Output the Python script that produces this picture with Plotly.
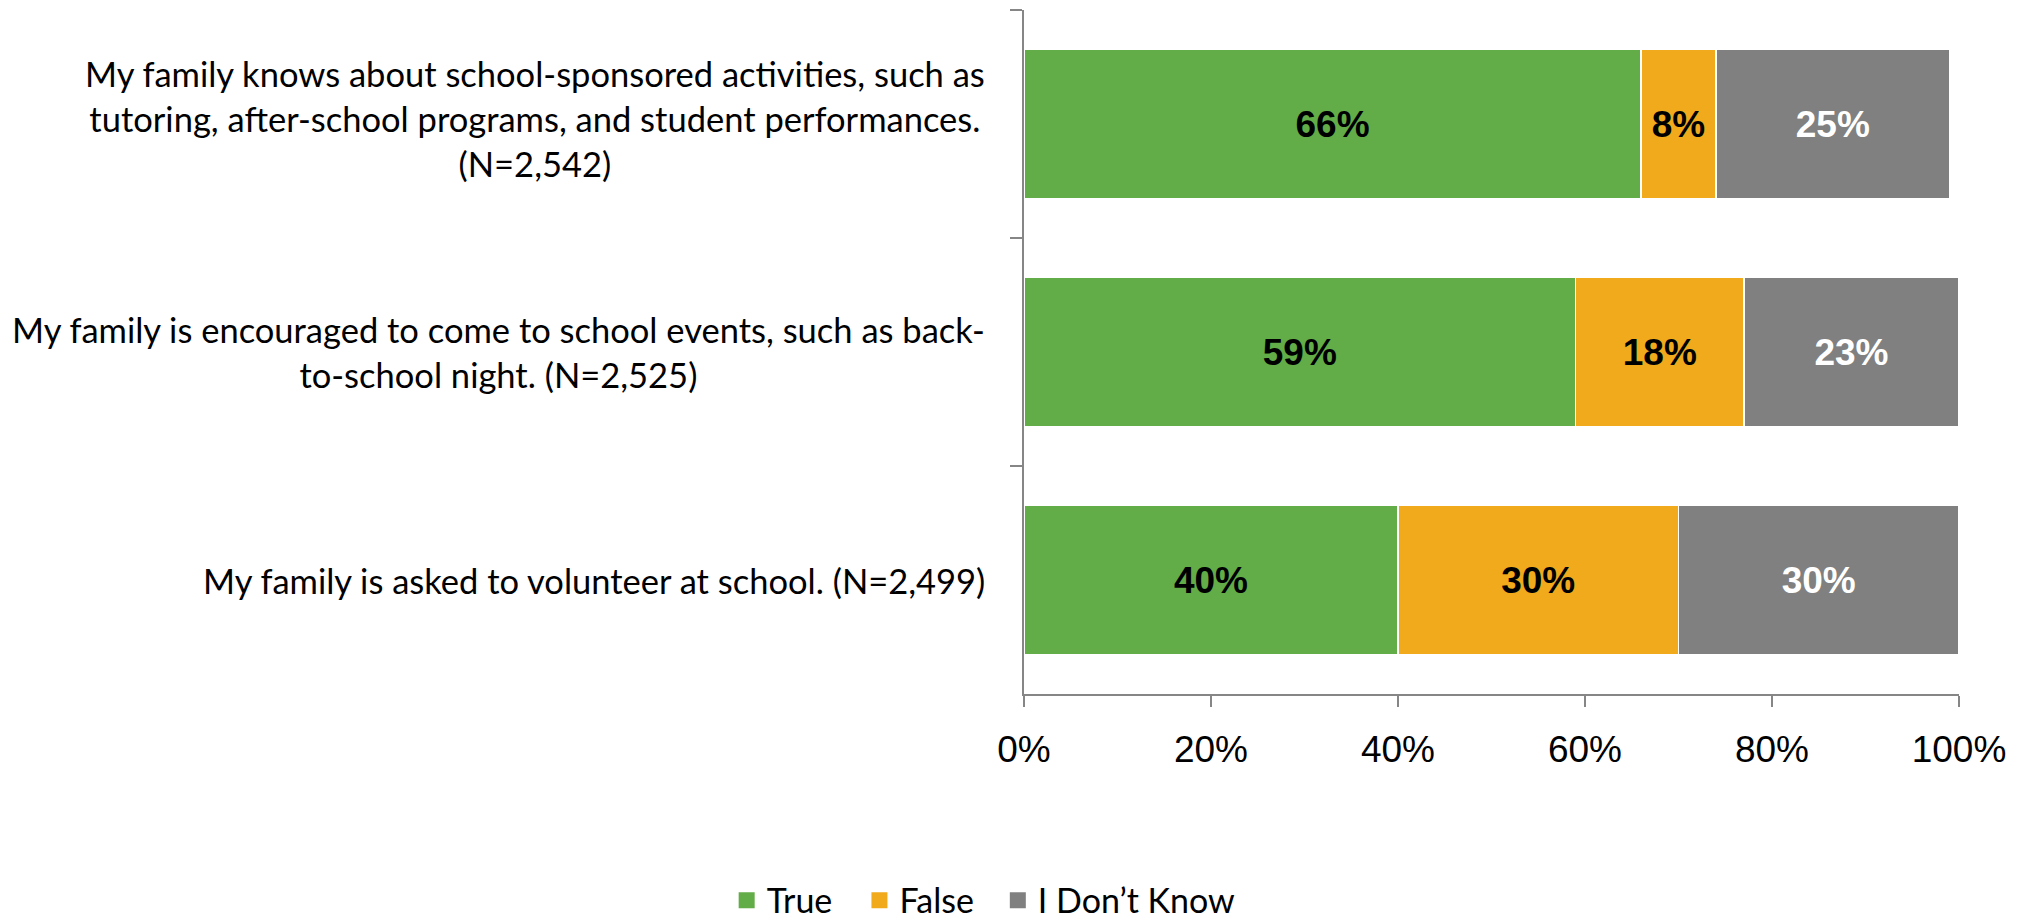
import plotly.graph_objects as go

# ---- data ----
categories = [
    "My family knows about school-sponsored activities, such as<br>tutoring, after-school programs, and student performances.<br>(N=2,542)",
    "My family is encouraged to come to school events, such as back-<br>to-school night. (N=2,525)",
    "My family is asked to volunteer at school. (N=2,499)",
]
series_names = ["True", "False", "I Don\u2019t Know"]
true_vals = [66, 59, 40]
false_vals = [8, 18, 30]
dontknow_vals = [25, 23, 30]
x_tick_vals = [0, 20, 40, 60, 80, 100]
x_tick_text = ["0%", "20%", "40%", "60%", "80%", "100%"]

# ---- styles ----
series_colors = ["#62AD47", "#F0AA1C", "#808080"]
label_colors = ["#000000", "#000000", "#FFFFFF"]
legend_ids = ["legend", "legend2", "legend3"]
legend_x = [-0.318, -0.176, -0.028]
axis_color = "#868686"
label_font = "Lato, Carlito, Calibri, sans-serif"
num_font = "Liberation Sans, Arial, sans-serif"

fig = go.Figure()
for name, vals, color, tcolor, lg in zip(series_names, [true_vals, false_vals, dontknow_vals],
                                         series_colors, label_colors, legend_ids):
    fig.add_trace(go.Bar(
        y=categories, x=vals, orientation="h", name=name,
        marker=dict(color=color, line=dict(color="white", width=1.5)),
        text=[f"{v}%" for v in vals], textposition="inside",
        insidetextanchor="middle", textangle=0,
        textfont=dict(family=num_font, size=37, color=tcolor, weight="bold"),
        showlegend=False, hoverinfo="skip",
    ))
    # legend entry
    fig.add_trace(go.Scatter(
        x=[None], y=[None], mode="markers", name=name, legend=lg,
        marker=dict(symbol="square", size=16, color=color),
        showlegend=True, hoverinfo="skip",
    ))

for i, cat in enumerate(categories):
    fig.add_annotation(
        x=-0.0396, xref="paper", y=cat, yref="y", text=cat,
        xanchor="right", yanchor="middle", align="center", showarrow=False,
        yshift=6 if i == 0 else 0,
        font=dict(family=label_font, size=34.5, color="#000000"),
    )

legend_common = dict(orientation="h", xanchor="left", y=-0.302, yanchor="middle",
                     font=dict(family=label_font, size=34, color="#000000"),
                     itemwidth=30, bgcolor="rgba(0,0,0,0)")

fig.update_layout(
    width=2028, height=922,
    margin=dict(l=1024, r=69, t=10, b=228, autoexpand=False),
    paper_bgcolor="white", plot_bgcolor="white",
    barmode="stack", bargap=0.34,
    showlegend=True,
    legend=dict(x=legend_x[0], **legend_common),
    legend2=dict(x=legend_x[1], **legend_common),
    legend3=dict(x=legend_x[2], **legend_common),
    xaxis=dict(range=[0, 100], tickvals=x_tick_vals, ticktext=x_tick_text,
               ticks="outside", ticklen=11, tickwidth=2, tickcolor=axis_color,
               showline=True, linecolor=axis_color, linewidth=2,
               showgrid=False, zeroline=False, automargin=False,
               tickfont=dict(family=num_font, size=37, color="#000000"),
               ticklabelstandoff=11),
    yaxis=dict(type="category", categoryorder="array", categoryarray=categories,
               range=[2.5, -0.5], showticklabels=False, automargin=False,
               ticks="outside", tickson="boundaries", ticklen=12, tickwidth=2,
               tickcolor=axis_color, showline=True, linecolor=axis_color, linewidth=2,
               showgrid=False, zeroline=False),
)

fig.write_html("out.html", config={"displayModeBar": False},
               post_script="document.body.style.margin='0px';")
